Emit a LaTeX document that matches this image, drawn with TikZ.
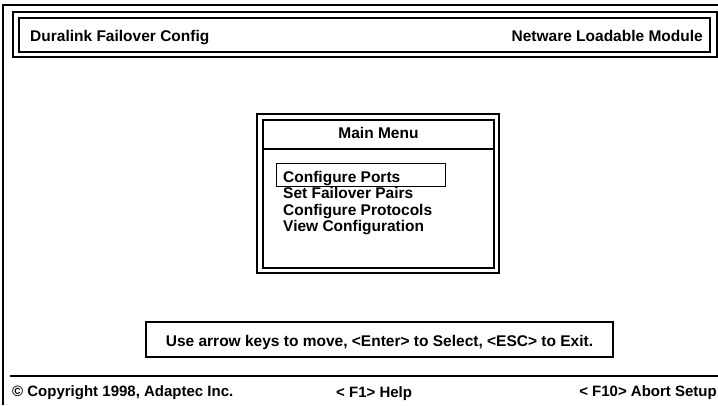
\documentclass[tikz,border=0pt]{standalone}
\usepackage{fontspec}
\setmainfont{Liberation Sans}

\begin{document}
\begin{tikzpicture}[x=1pt,y=-1pt,
    frame/.style={line width=1.7pt},
    thinframe/.style={line width=1.3pt},
    txt/.style={inner sep=0pt,font=\fontsize{15.5}{18}\selectfont\bfseries}]
    \useasboundingbox (0,0) rectangle (718,405);
    % screen border
    \draw[frame] (3,405) -- (3,5) -- (718,5);
    % title bar
    \draw[thinframe] (13,12) rectangle (717,57);
    \draw[thinframe] (19,18) rectangle (710,52);
    \node[txt,anchor=base west] (title) at (30,41) {Duralink Failover Config};
    \node[txt,anchor=base east] (module) at (703,41) {Netware Loadable Module};
    % main menu window
    \draw[frame] (257,114) rectangle (499,273);
    \draw[frame] (263,120) rectangle (494,268);
    \draw[frame] (263,149) -- (494,149);
    \node[txt,anchor=base] (menu) at (378.5,138) {Main Menu};
    \draw[line width=0.9pt] (276,163) rectangle (445,186);
    \foreach \name/\entry [count=\i] in {ports/Configure Ports,
        pairs/Set Failover Pairs, protocols/Configure Protocols,
        view/View Configuration}
      \node[txt,anchor=base west] (\name) at (283,165.5+16.5*\i) {\entry};
    % help line
    \draw[frame] (146,322) rectangle (613,357);
    \node[txt,anchor=base] (hint) at (379.5,346)
      {Use arrow keys to move, <Enter> to Select, <ESC> to Exit.};
    % status bar
    \draw[frame] (10,376) -- (718,376);
    \node[txt,anchor=base west,font=\fontsize{15}{18}\selectfont\bfseries] (copy) at (12,396)
      {\textcopyright{} Copyright 1998, Adaptec Inc.};
    \node[txt,anchor=base west,font=\fontsize{15}{18}\selectfont\bfseries] (help) at (336,397) {< F1> Help};
    \node[txt,anchor=base east,font=\fontsize{15}{18}\selectfont\bfseries] (abort) at (717,396) {< F10> Abort Setup};
\end{tikzpicture}
\end{document}
